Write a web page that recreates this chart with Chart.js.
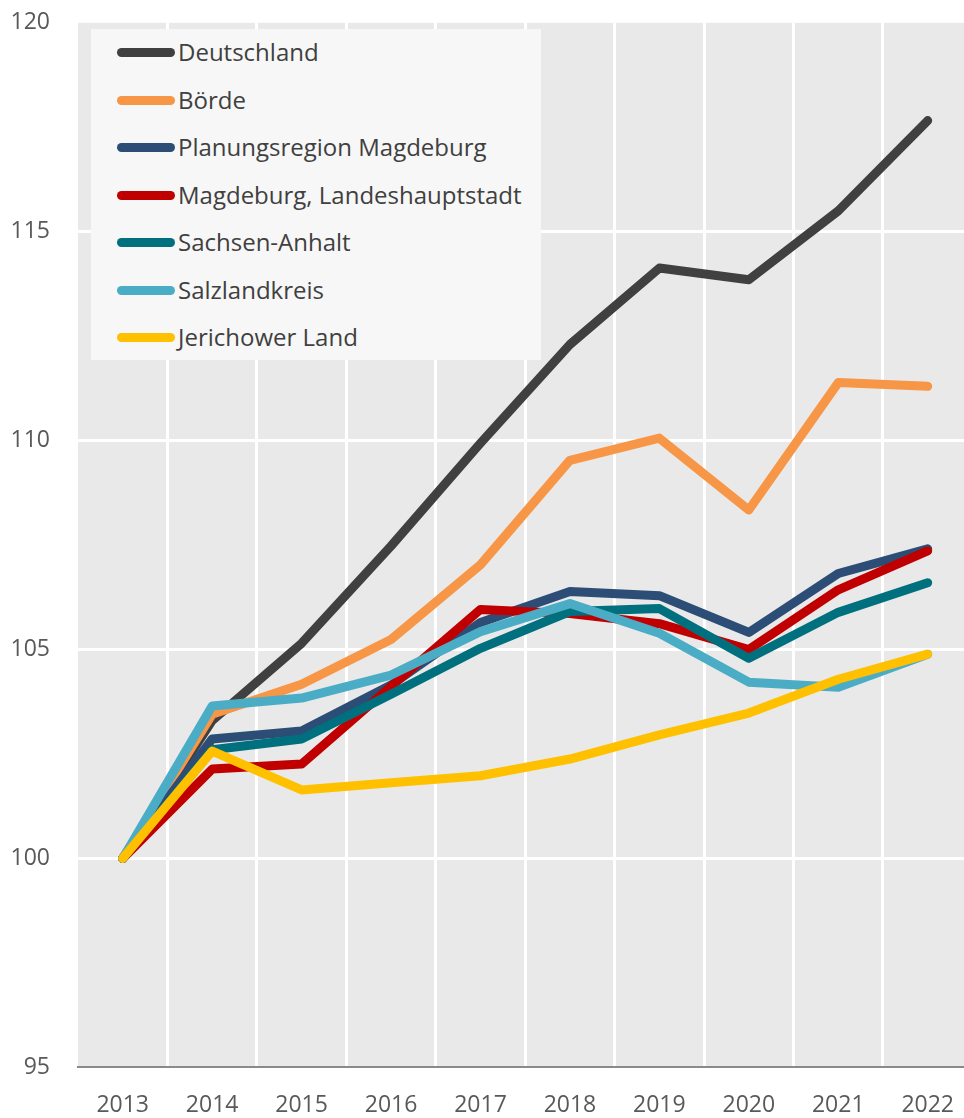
<!DOCTYPE html>
<html lang="de">
<head>
    <meta charset="UTF-8">
    <title>Index 2013 = 100</title>
    <script src="https://cdn.jsdelivr.net/npm/chart.js"></script>
    <style>
        body {
            margin: 0;
            padding: 0;
            background: #fff;
            font-family: "Open Sans", sans-serif;
        }
        #wrap {
            position: relative;
            width: 964px;
            height: 1118px;
            overflow: hidden;
        }
        #box {
            position: absolute;
            left: 0;
            top: -19px;
            width: 978px;
            height: 1162px;
        }
        #legend {
            position: absolute;
            left: 91px;
            top: 29px;
            width: 450px;
            height: 331px;
            background: #f7f7f7;
        }
        .item {
            position: absolute;
            left: 0;
            height: 30px;
            line-height: 30px;
            font-size: 24px;
            color: #404040;
        }
        .swatch {
            position: absolute;
            left: 26px;
            top: 11px;
            width: 58px;
            height: 9px;
            border-radius: 5px;
        }
        .item span {
            position: absolute;
            left: 87px;
            white-space: nowrap;
        }
    </style>
</head>
<body>
<div id="wrap">
    <div id="box"><canvas id="chart"></canvas></div>
    <div id="legend"></div>
</div>
<script>
    const years = ['2013', '2014', '2015', '2016', '2017', '2018', '2019', '2020', '2021', '2022'];
    const yTicks = [95, 100, 105, 110, 115, 120];

    const deutschland   = [100, 103.3, 105.15, 107.48, 109.94, 112.3, 114.13, 113.85, 115.5, 117.66];
    const boerde        = [100, 103.45, 104.17, 105.24, 107.03, 109.53, 110.06, 108.34, 111.39, 111.3];
    const planungsreg   = [100, 102.86, 103.05, 104.15, 105.65, 106.39, 106.29, 105.41, 106.82, 107.41];
    const magdeburg     = [100, 102.14, 102.26, 104.12, 105.96, 105.86, 105.62, 105.0, 106.43, 107.36];
    const sachsenAnhalt = [100, 102.6, 102.86, 103.93, 105.03, 105.91, 105.98, 104.79, 105.89, 106.6];
    const salzland      = [100, 103.65, 103.84, 104.39, 105.43, 106.1, 105.39, 104.22, 104.1, 104.89];
    const jerichow      = [100, 102.57, 101.64, 101.81, 101.98, 102.38, 102.96, 103.48, 104.29, 104.89];

    const names = ['Deutschland', 'Börde', 'Planungsregion Magdeburg', 'Magdeburg, Landeshauptstadt',
        'Sachsen-Anhalt', 'Salzlandkreis', 'Jerichower Land'];
    const colors = ['#404040', '#f79646', '#2c4d75', '#c00000', '#00707f', '#4bacc6', '#ffc000'];
    const values = [deutschland, boerde, planungsreg, magdeburg, sachsenAnhalt, salzland, jerichow];

    // legend as html on top of the plot
    const legend = document.getElementById('legend');
    names.forEach((n, i) => {
        const d = document.createElement('div');
        d.className = 'item';
        d.style.top = (8 + i * 47.5) + 'px';
        d.innerHTML = '<div class="swatch" style="background:' + colors[i] + '"></div><span>' + n + '</span>';
        legend.appendChild(d);
    });

    const plotBg = {
        id: 'plotBg',
        beforeDraw(chart) {
            const a = chart.chartArea;
            const c = chart.ctx;
            c.save();
            c.fillStyle = '#e9e9e9';
            c.fillRect(a.left, a.top, a.right - a.left, a.bottom - a.top);
            c.restore();
        }
    };

    const datasets = values.map((v, i) => ({
        label: names[i],
        data: v,
        borderColor: colors[i],
        backgroundColor: colors[i],
        borderWidth: 9,
        borderCapStyle: 'round',
        borderJoinStyle: 'round',
        pointRadius: 0,
        tension: 0,
        order: names.length - i
    }));

    new Chart(document.getElementById('chart'), {
        type: 'line',
        data: { labels: years, datasets: datasets },
        options: {
            responsive: true,
            maintainAspectRatio: false,
            animation: false,
            layout: { padding: { top: 10, left: 0, right: 0, bottom: 0 } },
            plugins: {
                legend: { display: false },
                tooltip: { enabled: false }
            },
            scales: {
                x: {
                    offset: true,
                    grid: {
                        offset: true,
                        drawTicks: false,
                        lineWidth: 3,
                        color: (ctx) => ctx.index === 0 ? 'rgba(0,0,0,0)' : '#ffffff'
                    },
                    border: { display: true, color: '#8a8a8a', width: 2 },
                    ticks: {
                        padding: 24,
                        color: '#595959',
                        font: { family: '"Open Sans", sans-serif', size: 23 }
                    }
                },
                y: {
                    min: yTicks[0],
                    max: yTicks[yTicks.length - 1],
                    afterFit: (s) => { s.width = 78; },
                    afterBuildTicks: (s) => { s.ticks = yTicks.map(v => ({ value: v })); },
                    grid: {
                        drawTicks: false,
                        lineWidth: 3,
                        color: (ctx) => (ctx.tick && (ctx.tick.value === 95 || ctx.tick.value === 120)) ? 'rgba(0,0,0,0)' : '#ffffff'
                    },
                    border: { display: false },
                    ticks: {
                        padding: 28,
                        color: '#595959',
                        font: { family: '"Open Sans", sans-serif', size: 23 }
                    }
                }
            }
        },
        plugins: [plotBg]
    });
</script>
</body>
</html>
